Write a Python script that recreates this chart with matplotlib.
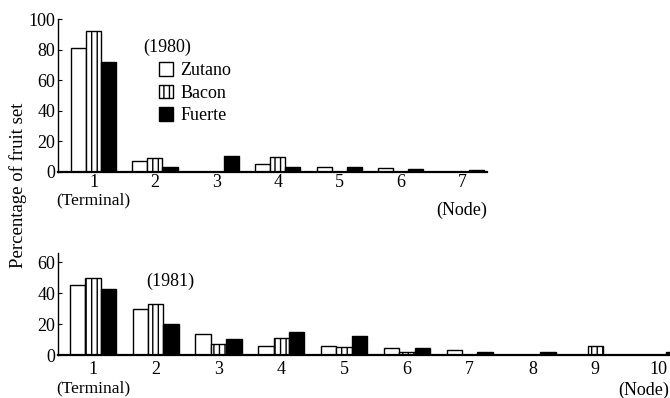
import matplotlib
matplotlib.use("Agg")
import matplotlib.pyplot as plt
import matplotlib.transforms as mt
import numpy as np

plt.rcParams['font.family'] = ['Liberation Serif', 'DejaVu Serif']
plt.rcParams['hatch.linewidth'] = 1.0

nodes_1980 = [1, 2, 3, 4, 5, 6, 7]
zutano_1980 = [81, 7, 0, 5, 3, 2.5, 0]
bacon_1980 = [92, 9, 0, 10, 0, 0, 0]
fuerte_1980 = [72, 3, 10.5, 3, 3, 2, 1.5]

nodes_1981 = [1, 2, 3, 4, 5, 6, 7, 8, 9, 10]
zutano_1981 = [45.5, 30, 13.5, 6, 6, 4.5, 3.5, 0, 0, 0]
bacon_1981 = [50, 33, 7, 11, 5, 2, 0, 0, 6, 0]
fuerte_1981 = [43, 20, 10.5, 15, 12.5, 4.5, 2, 2, 0, 2]

series = ["Zutano", "Bacon", "Fuerte"]

W, H = 670, 398
fig = plt.figure(figsize=(6.7, 3.98), dpi=100)

def px_axes(l, r, t, b):
    return fig.add_axes([l / W, 1 - b / H, (r - l) / W, (b - t) / H])

ax1 = px_axes(58, 487, 19, 172)
ax2 = px_axes(58, 670, 253, 355)

bw = 0.245
fs = 13

def draw(ax, nodes, z, b, f, pad):
    x = np.array(nodes, dtype=float)
    hz = ax.bar(x - bw, z, bw, facecolor='white', edgecolor='black', linewidth=1.0, label=series[0])
    hb = ax.bar(x, b, bw, facecolor='white', edgecolor='black', linewidth=1.0, hatch='|||', label=series[1])
    hf = ax.bar(x + bw, f, bw, facecolor='black', edgecolor='black', linewidth=1.0, label=series[2])
    for s in ['top', 'right']:
        ax.spines[s].set_visible(False)
    ax.spines['left'].set_linewidth(1.0)
    ax.spines['bottom'].set_linewidth(1.6)
    ax.set_xticks(nodes)
    ax.set_xticklabels([str(n) for n in nodes], fontsize=fs)
    ax.tick_params(axis='x', length=0, pad=pad)
    ax.tick_params(axis='y', direction='in', length=3, pad=2, labelsize=fs)
    return hz, hb, hf

h = draw(ax1, nodes_1980, zutano_1980, bacon_1980, fuerte_1980, 1.5)
ax1.set_xlim(0.42, 7.41)
ax1.set_ylim(0, 100)
ax1.set_yticks([0, 20, 40, 60, 80, 100])

draw(ax2, nodes_1981, zutano_1981, bacon_1981, fuerte_1981, 4)
ax2.set_xlim(0.443, 10.19)
ax2.set_ylim(0, 66)
ax2.set_yticks([0, 20, 40, 60])

fig.text(167 / W, 1 - 47 / H, "(1980)", ha='center', va='center', fontsize=fs)
fig.legend(handles=list(h), labels=series, loc='upper left',
           bbox_to_anchor=(159 / W, 1 - 62 / H), frameon=False, fontsize=fs,
           handlelength=0.75, handleheight=0.8, handletextpad=0.45, labelspacing=0.3,
           borderpad=0, borderaxespad=0)
fig.text(170 / W, 1 - 281 / H, "(1981)", ha='center', va='center', fontsize=fs)

tr1 = mt.blended_transform_factory(ax1.transData, fig.transFigure)
ax1.text(1, 1 - 200 / H, "(Terminal)", transform=tr1, ha='center', va='center', fontsize=12.5)
ax1.text(7, 1 - 210 / H, "(Node)", transform=tr1, ha='center', va='center', fontsize=13)
tr2 = mt.blended_transform_factory(ax2.transData, fig.transFigure)
ax2.text(1, 1 - 388 / H, "(Terminal)", transform=tr2, ha='center', va='center', fontsize=12.5)
fig.text(669 / W, 1 - 390 / H, "(Node)", ha='right', va='center', fontsize=13)

fig.text(18 / W, 1 - 185 / H, "Percentage of fruit set", rotation=90, ha='center', va='center', fontsize=13.5)

fig.savefig("out.png", dpi=100)
